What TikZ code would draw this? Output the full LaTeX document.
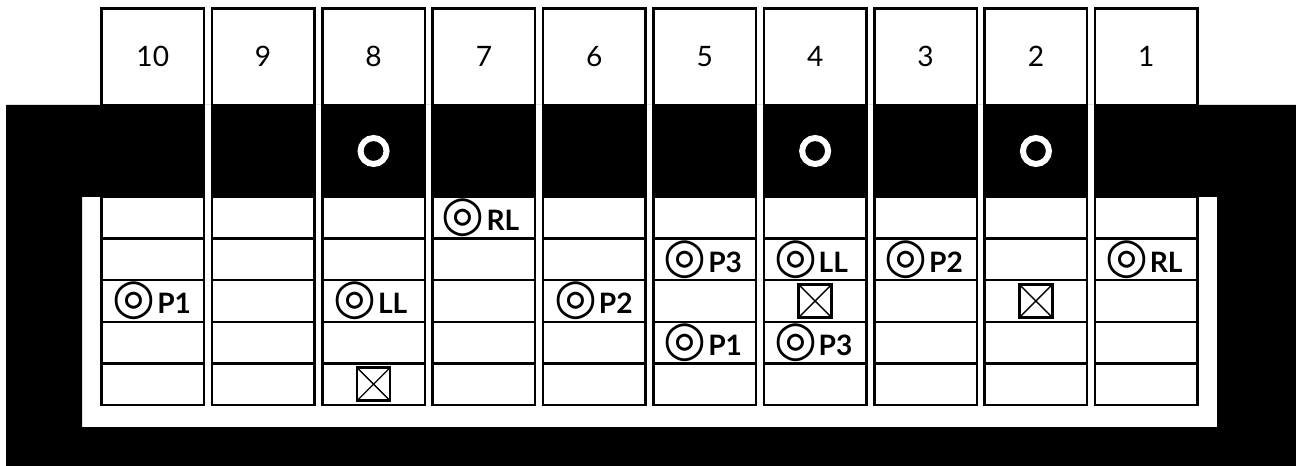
\documentclass[tikz,border=0pt]{standalone}
\usepackage{fontspec}
\setmainfont{Lato}
\newfontfamily\symfont{DejaVu Sans Bold}
\usetikzlibrary{positioning}
\newcommand{\cible}{{\symfont\fontsize{28}{28}\selectfont ◎}\kern1pt}

\begin{document}
\begin{tikzpicture}[x=0.02cm,y={(0cm,-0.02cm)},
  tete/.style={rectangle,draw=black,fill=white,line width=1.4pt,
    minimum width=2.05cm,minimum height=1.93cm,inner sep=0pt,
    font=\fontsize{16}{16}\selectfont},
  bande/.style={rectangle,draw=black,fill=black,line width=1.4pt,
    minimum width=2.05cm,minimum height=1.84cm,inner sep=0pt},
  case/.style={rectangle,draw=black,fill=white,line width=1.4pt,
    minimum width=2.05cm,minimum height=0.832cm,inner sep=0pt},
  lbl/.style={inner sep=0pt,font=\bfseries\fontsize{16}{16}\selectfont},
  croix/.style={rectangle,draw=black,line width=1.6pt,minimum size=0.66cm,inner sep=0pt,
    path picture={\draw[line width=0.8pt]
      (path picture bounding box.north west) -- (path picture bounding box.south east)
      (path picture bounding box.north east) -- (path picture bounding box.south west);}},
  anneau/.style={circle,draw=white,line width=0.12cm,minimum size=0.52cm,inner sep=0pt}]
  \useasboundingbox (0,0) rectangle (1296,466);
  % cadre noir
  \fill[black,even odd rule] (6,105) rectangle (1296,466) (82,197) rectangle (1217,427);
  \fill[white] (204,105) rectangle (1095,197);
  % colonnes
  \foreach \n [count=\k from 0] in {10,9,...,1} {
    \node[tete] (h\n) at ({152.75+110.4*\k},56.75) {\n};
    \node[bande] (b\n) at ({152.75+110.4*\k},151) {};
    \foreach \r in {1,...,5}
      \node[case] (c\n-\r) at ({152.75+110.4*\k},{197+41.6*(\r-0.5)}) {};
  }
  % anneaux
  \node[anneau] (o8) at (b8) {};
  \node[anneau] (o4) at (b4) {};
  \node[anneau] (o2) at (b2) {};
  % reperes
  \node[lbl,right=0.24cm of c10-3.west] (m10a) {\cible P1};
  \node[lbl,right=0.24cm of c8-3.west] (m8a) {\cible LL};
  \node[croix] (m8b) at (c8-5) {};
  \node[lbl,right=0.2cm of c7-1.west] (m7a) {\cible RL};
  \node[lbl,right=0.24cm of c6-3.west] (m6a) {\cible P2};
  \node[lbl,right=0.22cm of c5-2.west] (m5a) {\cible P3};
  \node[lbl,right=0.22cm of c5-4.west] (m5b) {\cible P1};
  \node[lbl,right=0.22cm of c4-2.west] (m4a) {\cible LL};
  \node[croix] (m4b) at (c4-3) {};
  \node[lbl,right=0.22cm of c4-4.west] (m4c) {\cible P3};
  \node[lbl,right=0.22cm of c3-2.west] (m3a) {\cible P2};
  \node[croix] (m2a) at (c2-3) {};
  \node[lbl,right=0.22cm of c1-2.west] (m1a) {\cible RL};
\end{tikzpicture}
\end{document}
